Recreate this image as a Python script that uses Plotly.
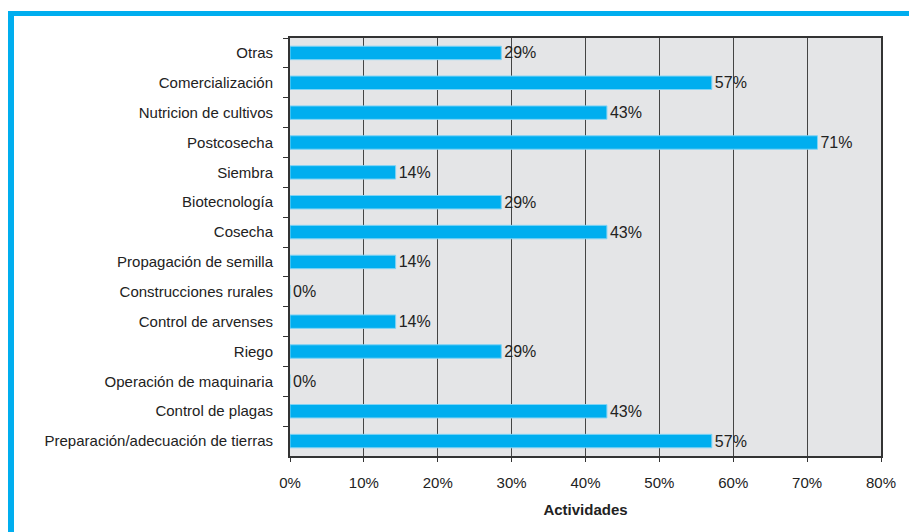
import plotly.graph_objects as go

categories = ["Otras", "Comercialización", "Nutricion de cultivos", "Postcosecha",
              "Siembra", "Biotecnología", "Cosecha", "Propagación de semilla",
              "Construcciones rurales", "Control de arvenses", "Riego",
              "Operación de maquinaria", "Control de plagas",
              "Preparación/adecuación de tierras"]
values = [28.6, 57.1, 42.9, 71.4, 14.3, 28.6, 42.9, 14.3, 0, 14.3, 28.6, 0, 42.9, 57.1]
labels = ["29%", "57%", "43%", "71%", "14%", "29%", "43%", "14%", "0%", "14%",
          "29%", "0%", "43%", "57%"]
x_ticks = [0, 10, 20, 30, 40, 50, 60, 70, 80]
x_tick_text = ["0%", "10%", "20%", "30%", "40%", "50%", "60%", "70%", "80%"]

# page has an 8px body margin, so the figure is drawn 8px smaller and offset
OFF = 8
W, H = 917 - OFF, 532 - OFF
L, R, T, B = 290 - OFF, 917 - 881, 38 - OFF, 532 - 456
pw, ph = W - L - R, H - T - B

def px(x):
    return (x - OFF - L) / pw

def py(y):
    return (H - B - (y - OFF)) / ph

fig = go.Figure(go.Bar(
    y=categories, x=values, orientation="h",
    marker=dict(color="#00aeef", line=dict(color="#7fd3f5", width=1)),
    width=0.45,
    text=labels, textposition="outside", cliponaxis=False, constraintext="none",
    textfont=dict(family="Liberation Sans, Arial", size=16, color="#222"),
))

fig.update_layout(
    width=W, height=H,
    margin=dict(l=L, r=R, t=T, b=B),
    paper_bgcolor="white", plot_bgcolor="#e4e5e7",
    showlegend=False,
    font=dict(family="Liberation Sans, Arial", size=13, color="#222"),
    xaxis=dict(range=[0, 80], tickvals=x_ticks, ticktext=x_tick_text,
               showgrid=True, gridcolor="#444", gridwidth=1,
               ticks="outside", ticklen=4, tickcolor="#333",
               tickfont=dict(size=15), showline=True, linecolor="#333",
               linewidth=2, mirror=True, zeroline=False, ticklabelstandoff=8,
               title=dict(text="<b>Actividades</b>", font=dict(size=15), standoff=14)),
    yaxis=dict(autorange="reversed", showgrid=False, ticks="outside",
               tickson="boundaries", ticklen=5, tickcolor="#333",
               showline=True, linecolor="#333", linewidth=2, mirror=True,
               ticklabelstandoff=12, tickfont=dict(size=15)),
    shapes=[
        dict(type="rect", xref="paper", yref="paper", x0=px(8), x1=px(917 + 5),
             y0=py(16), y1=py(11), fillcolor="#00aeef", line=dict(width=0), layer="above"),
        dict(type="rect", xref="paper", yref="paper", x0=px(8), x1=px(14),
             y0=py(532 + 5), y1=py(11), fillcolor="#00aeef", line=dict(width=0), layer="above"),
    ],
)

fig.write_html("out.html")
